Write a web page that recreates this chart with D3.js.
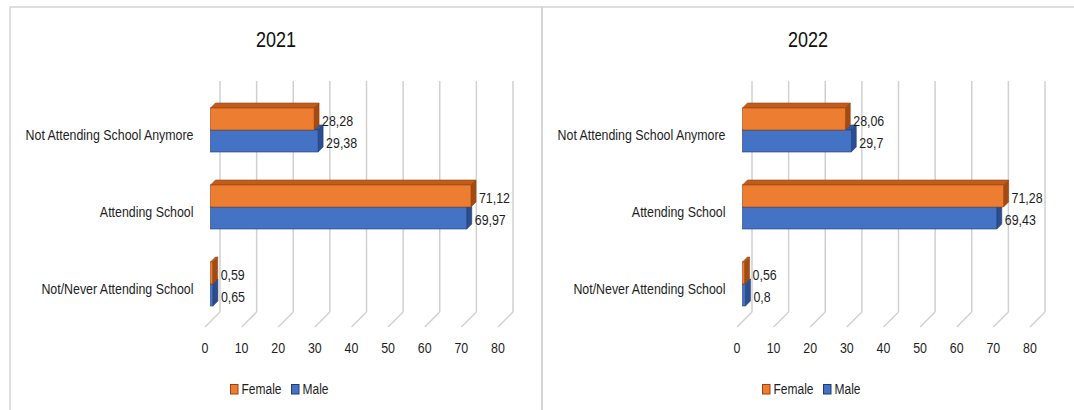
<!DOCTYPE html>
<html>
<head>
<meta charset="utf-8">
<script src="https://cdn.jsdelivr.net/npm/d3@7"></script>
<style>
  html, body { margin: 0; padding: 0; background: #fff; }
  svg { display: block; }
  text { font-family: 'Liberation Sans', Arial, sans-serif; fill: #1e1e1e; }
</style>
</head>
<body>
<div id="chart"></div>
<script>
'use strict'

var categories = ['Not Attending School Anymore', 'Attending School', 'Not/Never Attending School']
var series = ['Female', 'Male']
var years = ['2021', '2022']
var female2021 = [28.28, 71.12, 0.59]
var male2021 = [29.38, 69.97, 0.65]
var female2022 = [28.06, 71.28, 0.56]
var male2022 = [29.7, 69.43, 0.8]
var tickValues = [0, 10, 20, 30, 40, 50, 60, 70, 80]

var colors = {
  Female: { front: '#ed7d31', top: '#c25c1c', side: '#a44b12', line: '#9c4410' },
  Male: { front: '#4472c4', top: '#3459a3', side: '#2c4e8e', line: '#1f3c78' }
}

var locale = d3.formatLocale({ decimal: ',', thousands: '.', grouping: [3], currency: ['', ''] })
var fmt = locale.format('.2~f')

var W = 1074
var H = 410
var depth = 5
var narrow = 0.8 // squeeze Liberation Sans to a narrow face

var svg = d3.select('#chart').append('svg')
  .attr('width', W)
  .attr('height', H)

// text placed at (x, y) and squeezed horizontally
function place (sel, fx, fy) {
  sel.attr('transform', function (d, i) {
    return 'translate(' + fx(d, i) + ',' + fy(d, i) + ') scale(' + narrow + ',1)'
  })
}

function panel (p) {
  var props = Object.assign({ left: 0, width: 532, year: '', female: [], male: [] }, p || {})

  function draw (g) {
    var ox = props.left

    // frame
    g.append('rect')
      .attr('x', ox + 10)
      .attr('y', 7)
      .attr('width', props.width)
      .attr('height', 420)
      .style('fill', 'none')
      .style('stroke', '#d4d4d4')
      .style('stroke-width', 1.5)

    g.append('text')
      .attr('dy', '0.35em')
      .attr('text-anchor', 'middle')
      .style('font-size', '22.5px')
      .style('fill', '#111')
      .text(props.year)
      .call(place, function () { return ox + 276 }, function () { return 39 })

    var x = d3.scaleLinear().domain([0, 80]).range([ox + 220, ox + 513])
    var xBar = d3.scaleLinear().domain([0, 80]).range([ox + 210.5, ox + 503.5])
    var y = d3.scaleBand().domain(categories).range([91.5, 322.5])
    var ySub = d3.scaleBand().domain(series).range([16.5, 60.5])

    var gridTop = 81
    var gridBot = 312

    // back wall + floor grid
    var grid = g.append('g')
    grid.selectAll('line.v')
      .data(tickValues)
      .enter().append('line')
      .attr('class', 'v')
      .attr('x1', function (d) { return x(d) })
      .attr('x2', function (d) { return x(d) })
      .attr('y1', gridTop)
      .attr('y2', gridBot)
      .style('stroke', '#d0d0d0')
      .style('stroke-width', 1.5)
    grid.selectAll('line.f')
      .data(tickValues)
      .enter().append('line')
      .attr('class', 'f')
      .attr('x1', function (d) { return x(d) })
      .attr('x2', function (d) { return x(d) - 15 })
      .attr('y1', gridBot)
      .attr('y2', gridBot + 15)
      .style('stroke', '#d0d0d0')
      .style('stroke-width', 1.5)

    g.selectAll('text.tick')
      .data(tickValues)
      .enter().append('text')
      .attr('class', 'tick')
      .attr('dy', '0.35em')
      .attr('text-anchor', 'middle')
      .style('font-size', '15.5px')
      .text(function (d) { return d })
      .call(place, function (d) { return x(d) - 15 }, function () { return 348 })

    g.selectAll('text.cat')
      .data(categories)
      .enter().append('text')
      .attr('class', 'cat')
      .attr('dy', '0.35em')
      .attr('text-anchor', 'end')
      .style('font-size', '15.5px')
      .text(function (d) { return d })
      .call(place, function () { return xBar(0) - 17 }, function (d) { return y(d) + y.bandwidth() / 2 + 5 })

    // bars, male first so female faces sit on top
    var rows = []
    categories.forEach(function (c, i) {
      rows.push({ cat: c, s: 'Male', v: props.male[i] })
      rows.push({ cat: c, s: 'Female', v: props.female[i] })
    })

    var bars = g.selectAll('g.bar')
      .data(rows)
      .enter().append('g')
      .attr('class', 'bar')

    bars.each(function (d) {
      var b = d3.select(this)
      var c = colors[d.s]
      var x0 = xBar(0)
      var x1 = xBar(d.v)
      var y0 = y(d.cat) + ySub(d.s)
      var y1 = y0 + ySub.bandwidth()
      var pts = function (a) { return a.map(function (q) { return q.join(',') }).join(' ') }
      b.append('polygon')
        .attr('points', pts([[x0, y0], [x1, y0], [x1 + depth, y0 - depth], [x0 + depth, y0 - depth]]))
        .style('fill', c.top)
        .style('stroke', c.line)
        .style('stroke-width', 0.6)
      b.append('polygon')
        .attr('points', pts([[x1, y0], [x1, y1], [x1 + depth, y1 - depth], [x1 + depth, y0 - depth]]))
        .style('fill', c.side)
        .style('stroke', c.line)
        .style('stroke-width', 0.6)
      b.append('rect')
        .attr('x', x0)
        .attr('y', y0)
        .attr('width', x1 - x0)
        .attr('height', y1 - y0)
        .style('fill', c.front)
        .style('stroke', c.line)
        .style('stroke-width', 0.6)
      b.append('text')
        .attr('dy', '0.35em')
        .style('font-size', '15.5px')
        .text(fmt(d.v))
        .call(place, function () { return x1 + 8 }, function () { return (y0 + y1) / 2 + 1.5 })
    })

    // legend
    var leg = g.selectAll('g.leg')
      .data(series)
      .enter().append('g')
      .attr('class', 'leg')
      .attr('transform', function (d, i) { return 'translate(' + (ox + 230 + i * 61) + ',384)' })
    leg.append('rect')
      .attr('x', 0.5)
      .attr('y', 0.5)
      .attr('width', 7.5)
      .attr('height', 9.5)
      .style('fill', function (d) { return colors[d].front })
      .style('stroke', function (d) { return colors[d].line })
      .style('stroke-width', 1)
    leg.append('text')
      .attr('dy', '0.35em')
      .style('font-size', '15px')
      .text(function (d) { return d })
      .call(place, function () { return 11.5 }, function () { return 5 })
  }

  return draw
}

svg.append('g').call(panel({ left: 0, width: 532, year: years[0], female: female2021, male: male2021 }))
svg.append('g').call(panel({ left: 532, width: 560, year: years[1], female: female2022, male: male2022 }))
</script>
</body>
</html>
